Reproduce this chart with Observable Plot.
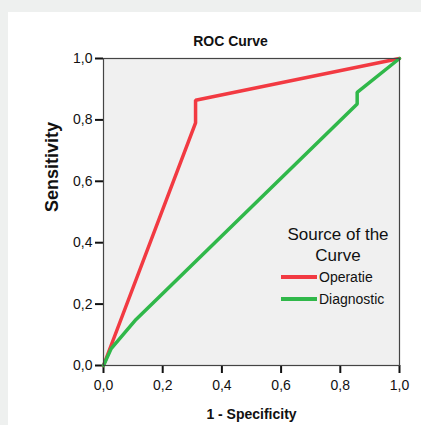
<!DOCTYPE html>
<html>
<head>
<meta charset="utf-8">
<script src="https://cdn.jsdelivr.net/npm/d3@7"></script>
<script src="https://cdn.jsdelivr.net/npm/@observablehq/plot@0.6"></script>
<style>
  html, body { margin: 0; padding: 0; background: #eef0ef; }
  #wrap { position: relative; width: 421px; height: 425px; overflow: hidden; font-family: "Liberation Sans", Arial, sans-serif; }
  #panel { position: absolute; left: 8px; top: 12px; right: 0; bottom: 0; background: #ffffff; }
  #chart { position: absolute; left: 0; top: 0; }
  #legend { position: absolute; left: 276px; top: 224px; width: 124px; color: #111; }
  #legend .ttl { text-align: center; font-size: 17px; line-height: 21px; }
  #legend .item { display: flex; align-items: center; font-size: 14px; height: 22px; margin-left: 5px; }
  #legend .sw { width: 36px; height: 3.5px; margin-right: 2px; }
</style>
</head>
<body>
<div id="wrap">
  <div id="panel"></div>
  <div id="chart"></div>
  <div id="legend"></div>
</div>
<script>
const seriesNames = ["Operatie", "Diagnostic"];
const seriesColors = ["#f23a42", "#30b84a"];
const operatieFpr = [0, 0.311, 0.311, 1];
const operatieTpr = [0, 0.79, 0.864, 1];
const diagnosticFpr = [0, 0.026, 0.11, 0.857, 0.857, 1];
const diagnosticTpr = [0, 0.055, 0.15, 0.852, 0.89, 1];
const tickValues = [0, 0.2, 0.4, 0.6, 0.8, 1.0];
const titleText = "ROC Curve";
const xLabel = "1 - Specificity";
const yLabel = "Sensitivity";
const legendTitle = ["Source of the", "Curve"];

const rows = [
  ...operatieFpr.map((x, i) => ({series: seriesNames[0], x, y: operatieTpr[i]})),
  ...diagnosticFpr.map((x, i) => ({series: seriesNames[1], x, y: diagnosticTpr[i]}))
];
const fmt = d => d3.format(".1f")(d).replace(".", ",");

const chart = Plot.plot({
  width: 421,
  height: 425,
  marginLeft: 103,
  marginRight: 22,
  marginTop: 58,
  marginBottom: 60,
  style: {background: "transparent", fontFamily: "Liberation Sans, Arial, sans-serif", fontSize: "14px", color: "#111"},
  x: {domain: [0, 1]},
  y: {domain: [0, 1]},
  color: {domain: seriesNames, range: seriesColors},
  marks: [
    Plot.frame({fill: "#f0f0f0", stroke: null}),
    Plot.axisX({ticks: tickValues, tickFormat: fmt, tickSize: 8, tickPadding: 7, stroke: "#111", strokeWidth: 2, strokeOpacity: 1, fontSize: 14, label: null}),
    Plot.axisY({ticks: tickValues, tickFormat: fmt, tickSize: 8, tickPadding: 3, stroke: "#111", strokeWidth: 2, strokeOpacity: 1, fontSize: 14, label: null}),
    Plot.line(rows, {x: "x", y: "y", z: "series", stroke: "series", strokeWidth: 3.5, strokeLinejoin: "miter", curve: "linear"}),
    Plot.frame({stroke: "#444", strokeWidth: 1.2}),
    Plot.text([xLabel], {frameAnchor: "bottom", lineAnchor: "middle", dy: 49, text: d => d, fontWeight: "bold", fontSize: 14}),
    Plot.text([yLabel], {frameAnchor: "left", lineAnchor: "middle", dx: -51, rotate: -90, text: d => d, fontWeight: "bold", fontSize: 18}),
    Plot.text([titleText], {frameAnchor: "top", lineAnchor: "middle", dx: -21, dy: -17, text: d => d, fontWeight: "bold", fontSize: 14})
  ]
});
document.getElementById("chart").appendChild(chart);

const legend = document.getElementById("legend");
legend.innerHTML = legendTitle.map(t => `<div class="ttl">${t}</div>`).join("") +
  seriesNames.map((n, i) => `<div class="item"><span class="sw" style="background:${seriesColors[i]}"></span>${n}</div>`).join("");
</script>
</body>
</html>
